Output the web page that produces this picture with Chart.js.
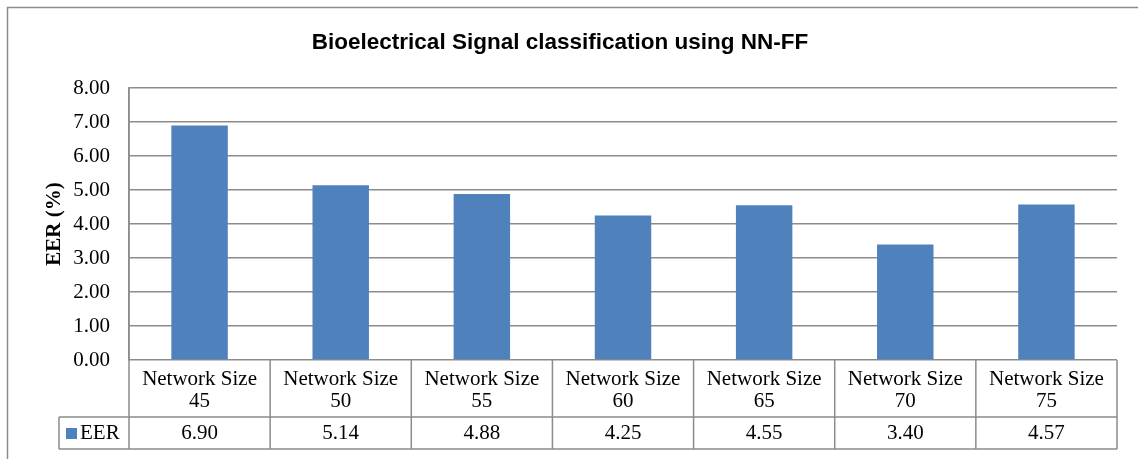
<!DOCTYPE html>
<html>
<head>
<meta charset="utf-8">
<title>Bioelectrical Signal classification using NN-FF</title>
<script src="https://cdn.jsdelivr.net/npm/chart.js@4"></script>
<style>
  html, body { margin: 0; padding: 0; background: #fff; }
  #wrap { position: relative; width: 1138px; height: 459px; }
</style>
</head>
<body>
<div id="wrap"><canvas id="chart" width="1138" height="459"></canvas></div>
<script>
// data
const networkSizes = ['45', '50', '55', '60', '65', '70', '75'];
const categoryLabels = networkSizes.map(s => ['Network Size', s]);
const eerValues = [6.90, 5.14, 4.88, 4.25, 4.55, 3.40, 4.57];
const yTicks = [0, 1, 2, 3, 4, 5, 6, 7, 8];
const seriesName = 'EER';
const chartTitle = 'Bioelectrical Signal classification using NN-FF';

const BAR = '#4f81bd';
const LINE = '#8c8c8c';
const SERIF = '"Liberation Serif", "Times New Roman", serif';
const SANS = '"Liberation Sans", Arial, sans-serif';

// frame, title and the data table under the plot
const tablePlugin = {
  id: 'dataTable',
  beforeDraw(chart) {
    const ctx = chart.ctx;
    ctx.save();
    ctx.strokeStyle = LINE;
    ctx.lineWidth = 1.5;
    ctx.beginPath();
    ctx.moveTo(7.5, chart.height);
    ctx.lineTo(7.5, 7.5);
    ctx.lineTo(chart.width, 7.5);
    ctx.stroke();
    ctx.fillStyle = '#000';
    ctx.font = 'bold 22.5px ' + SANS;
    ctx.textAlign = 'center';
    ctx.textBaseline = 'middle';
    ctx.fillText(chartTitle, 560, 43);
    ctx.restore();
  },
  afterDraw(chart) {
    const ctx = chart.ctx;
    const area = chart.chartArea;
    const xs = chart.scales.x;
    const n = categoryLabels.length;
    const w = (area.right - area.left) / n;
    const rowTop = area.bottom;
    const rowMid = rowTop + 57;
    const rowBot = rowMid + 32;
    const legendLeft = 59;

    ctx.save();
    ctx.strokeStyle = LINE;
    ctx.lineWidth = 1.5;
    ctx.beginPath();
    ctx.moveTo(legendLeft, rowMid); ctx.lineTo(area.right, rowMid);
    ctx.moveTo(legendLeft, rowBot); ctx.lineTo(area.right, rowBot);
    ctx.moveTo(legendLeft, rowMid); ctx.lineTo(legendLeft, rowBot);
    for (let k = 0; k <= n; k++) {
      const x = area.left + k * w;
      ctx.moveTo(x, k === 0 ? area.top : rowTop);
      ctx.lineTo(x, rowBot);
    }
    ctx.stroke();

    ctx.fillStyle = '#000';
    ctx.font = '21px ' + SERIF;
    ctx.textAlign = 'center';
    ctx.textBaseline = 'middle';
    categoryLabels.forEach((lab, i) => {
      const cx = xs.getPixelForValue(i);
      ctx.fillText(lab[0], cx, rowTop + 19);
      ctx.fillText(lab[1], cx, rowTop + 41);
      ctx.fillText(eerValues[i].toFixed(2), cx, rowMid + 16);
    });

    // legend key
    ctx.fillStyle = BAR;
    ctx.fillRect(66, rowMid + 11, 11, 11);
    ctx.fillStyle = '#000';
    ctx.textAlign = 'left';
    ctx.fillText(seriesName, 80, rowMid + 16);
    ctx.restore();
  }
};

new Chart(document.getElementById('chart'), {
  type: 'bar',
  data: {
    labels: categoryLabels,
    datasets: [{
      label: seriesName,
      data: eerValues,
      backgroundColor: BAR,
      borderWidth: 0,
      categoryPercentage: 0.8,
      barPercentage: 0.5
    }]
  },
  options: {
    responsive: false,
    animation: false,
    layout: { padding: { top: 88, bottom: 99, right: 21, left: 0 } },
    plugins: {
      legend: { display: false },
      tooltip: { enabled: false },
      title: { display: false }
    },
    scales: {
      x: { display: false },
      y: {
        min: 0,
        max: 8,
        afterBuildTicks(scale) { scale.ticks = yTicks.map(v => ({ value: v })); },
        afterFit(scale) { scale.width = 129; },
        ticks: {
          padding: 19,
          color: '#000',
          font: { family: SERIF, size: 21 },
          callback: v => Number(v).toFixed(2)
        },
        grid: { color: LINE, lineWidth: 1.5, drawTicks: false },
        border: { color: LINE, width: 1.5 },
        title: {
          display: true,
          text: 'EER (%)',
          color: '#000',
          font: { family: SERIF, size: 21, weight: 'bold' },
          padding: { top: 42, bottom: 0 }
        }
      }
    }
  },
  plugins: [tablePlugin]
});
</script>
</body>
</html>
